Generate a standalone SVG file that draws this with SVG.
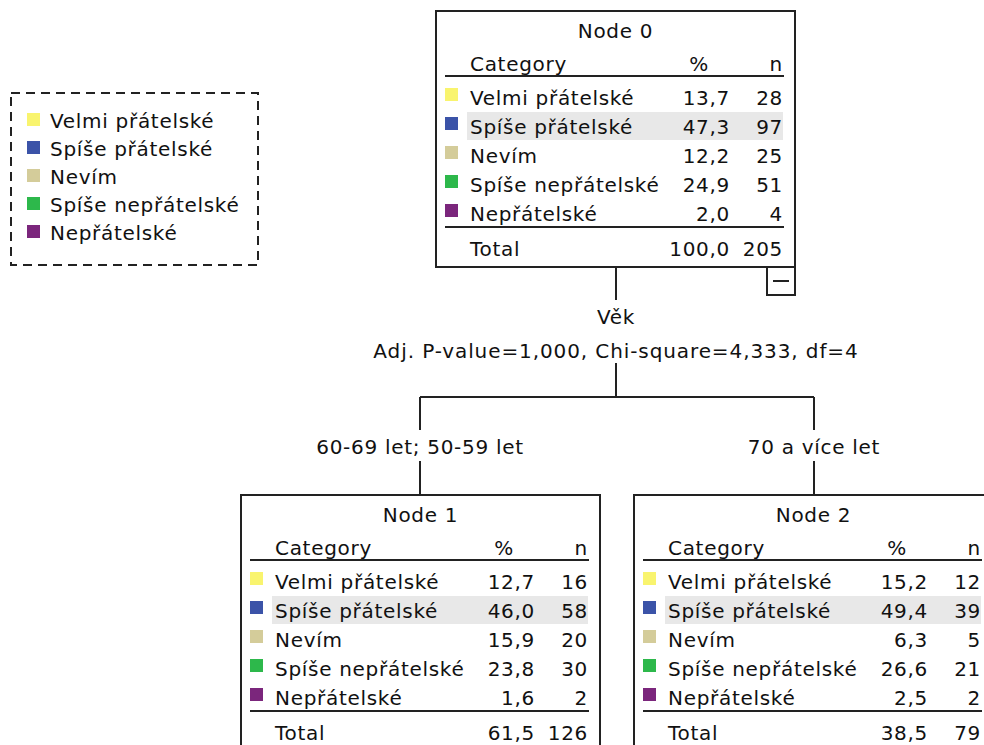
<svg xmlns="http://www.w3.org/2000/svg" width="984" height="745" viewBox="0 0 984 745">
<style>
text{font-family:"DejaVu Sans","Liberation Sans",sans-serif;font-size:20px;letter-spacing:0.7px;fill:#111}
.m{text-anchor:middle}
.e{text-anchor:end}
.box{fill:#fff;stroke:#222;stroke-width:2}
.ln{stroke:#222;stroke-width:2;fill:none}
.hl{fill:#e8e8e8}
.c0{fill:#f9f46e}.c1{fill:#3b53a8}.c2{fill:#d4cc9a}.c3{fill:#2db84b}.c4{fill:#7b267c}
</style>
<rect width="984" height="745" fill="#fff"/>
<g id="legend">
<rect x="11" y="93" width="247" height="172" fill="none" stroke="#222" stroke-width="2" stroke-dasharray="9,6"/>
<rect class="c0" x="27" y="113" width="13" height="13"/><text x="50" y="128">Velmi přátelské</text>
<rect class="c1" x="27" y="141" width="13" height="13"/><text x="50" y="156">Spíše přátelské</text>
<rect class="c2" x="27" y="169" width="13" height="13"/><text x="50" y="184">Nevím</text>
<rect class="c3" x="27" y="197" width="13" height="13"/><text x="50" y="212">Spíše nepřátelské</text>
<rect class="c4" x="27" y="225" width="13" height="13"/><text x="50" y="240">Nepřátelské</text>
</g>
<g id="connectors">
<path class="ln" d="M616,267V300M616,363V397M420,397H814M420,397V430M814,397V430M420,461V495M814,461V495"/>
<text class="m" x="616" y="324">Věk</text>
<text class="m" x="616" y="358" style="letter-spacing:0.9px">Adj. P-value=1,000, Chi-square=4,333, df=4</text>
<text class="m" x="420" y="454">60-69 let; 50-59 let</text>
<text class="m" x="814" y="454">70 a více let</text>
</g>
<g id="node0" transform="translate(436,11)">
<rect class="box" x="0" y="0" width="359" height="256"/>
<text class="m" x="179.5" y="26.5">Node 0</text>
<text x="34" y="59.5">Category</text><text class="m" x="263" y="59.5">%</text><text class="e" x="347" y="59.5">n</text>
<line class="ln" x1="9" y1="65" x2="348" y2="65"/>
<rect class="hl" x="31" y="101" width="316" height="28"/>
<rect class="c0" x="9" y="77" width="13" height="13"/><text x="34" y="94">Velmi přátelské</text><text class="e" x="294" y="94">13,7</text><text class="e" x="347" y="94">28</text>
<rect class="c1" x="9" y="106" width="13" height="13"/><text x="34" y="123">Spíše přátelské</text><text class="e" x="294" y="123">47,3</text><text class="e" x="347" y="123">97</text>
<rect class="c2" x="9" y="135" width="13" height="13"/><text x="34" y="152">Nevím</text><text class="e" x="294" y="152">12,2</text><text class="e" x="347" y="152">25</text>
<rect class="c3" x="9" y="164" width="13" height="13"/><text x="34" y="181">Spíše nepřátelské</text><text class="e" x="294" y="181">24,9</text><text class="e" x="347" y="181">51</text>
<rect class="c4" x="9" y="193" width="13" height="13"/><text x="34" y="210">Nepřátelské</text><text class="e" x="294" y="210">2,0</text><text class="e" x="347" y="210">4</text>
<line class="ln" x1="9" y1="216" x2="348" y2="216"/>
<text x="34" y="244.5">Total</text><text class="e" x="294" y="244.5">100,0</text><text class="e" x="347" y="244.5">205</text>
<rect class="box" x="331" y="256" width="28" height="28"/>
<line class="ln" x1="337" y1="270" x2="353" y2="270"/>
</g>
<g id="node1" transform="translate(241,495)">
<rect class="box" x="0" y="0" width="359" height="256"/>
<text class="m" x="179.5" y="26.5">Node 1</text>
<text x="34" y="59.5">Category</text><text class="m" x="263" y="59.5">%</text><text class="e" x="347" y="59.5">n</text>
<line class="ln" x1="9" y1="65" x2="348" y2="65"/>
<rect class="hl" x="31" y="101" width="316" height="28"/>
<rect class="c0" x="9" y="77" width="13" height="13"/><text x="34" y="94">Velmi přátelské</text><text class="e" x="294" y="94">12,7</text><text class="e" x="347" y="94">16</text>
<rect class="c1" x="9" y="106" width="13" height="13"/><text x="34" y="123">Spíše přátelské</text><text class="e" x="294" y="123">46,0</text><text class="e" x="347" y="123">58</text>
<rect class="c2" x="9" y="135" width="13" height="13"/><text x="34" y="152">Nevím</text><text class="e" x="294" y="152">15,9</text><text class="e" x="347" y="152">20</text>
<rect class="c3" x="9" y="164" width="13" height="13"/><text x="34" y="181">Spíše nepřátelské</text><text class="e" x="294" y="181">23,8</text><text class="e" x="347" y="181">30</text>
<rect class="c4" x="9" y="193" width="13" height="13"/><text x="34" y="210">Nepřátelské</text><text class="e" x="294" y="210">1,6</text><text class="e" x="347" y="210">2</text>
<line class="ln" x1="9" y1="216" x2="348" y2="216"/>
<text x="34" y="244.5">Total</text><text class="e" x="294" y="244.5">61,5</text><text class="e" x="347" y="244.5">126</text>
</g>
<g id="node2" transform="translate(634,495)">
<rect class="box" x="0" y="0" width="359" height="256"/>
<text class="m" x="179.5" y="26.5">Node 2</text>
<text x="34" y="59.5">Category</text><text class="m" x="263" y="59.5">%</text><text class="e" x="347" y="59.5">n</text>
<line class="ln" x1="9" y1="65" x2="348" y2="65"/>
<rect class="hl" x="31" y="101" width="316" height="28"/>
<rect class="c0" x="9" y="77" width="13" height="13"/><text x="34" y="94">Velmi přátelské</text><text class="e" x="294" y="94">15,2</text><text class="e" x="347" y="94">12</text>
<rect class="c1" x="9" y="106" width="13" height="13"/><text x="34" y="123">Spíše přátelské</text><text class="e" x="294" y="123">49,4</text><text class="e" x="347" y="123">39</text>
<rect class="c2" x="9" y="135" width="13" height="13"/><text x="34" y="152">Nevím</text><text class="e" x="294" y="152">6,3</text><text class="e" x="347" y="152">5</text>
<rect class="c3" x="9" y="164" width="13" height="13"/><text x="34" y="181">Spíše nepřátelské</text><text class="e" x="294" y="181">26,6</text><text class="e" x="347" y="181">21</text>
<rect class="c4" x="9" y="193" width="13" height="13"/><text x="34" y="210">Nepřátelské</text><text class="e" x="294" y="210">2,5</text><text class="e" x="347" y="210">2</text>
<line class="ln" x1="9" y1="216" x2="348" y2="216"/>
<text x="34" y="244.5">Total</text><text class="e" x="294" y="244.5">38,5</text><text class="e" x="347" y="244.5">79</text>
</g>
</svg>
